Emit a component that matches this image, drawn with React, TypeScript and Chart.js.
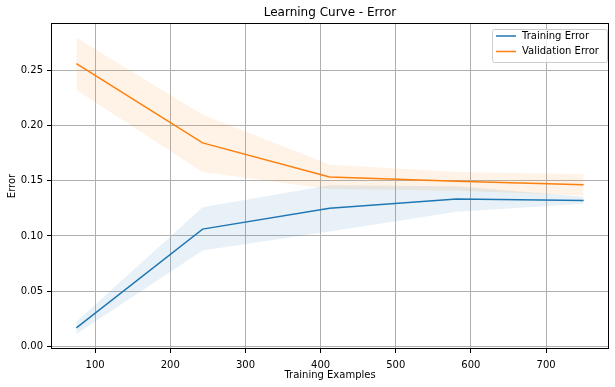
import React, { useEffect, useRef } from "react";
import { Chart, registerables } from "chart.js";

Chart.register(...registerables);

const trainSizes = [75, 243, 412, 581, 750];
const trainMean = [0.0168, 0.1062, 0.125, 0.1335, 0.1322];
const trainUpper = [0.0222, 0.126, 0.146, 0.145, 0.1355];
const trainLower = [0.0113, 0.0868, 0.104, 0.122, 0.1292];
const valMean = [0.256, 0.1843, 0.1535, 0.1495, 0.1463];
const valUpper = [0.2795, 0.2098, 0.1645, 0.158, 0.156];
const valLower = [0.2322, 0.158, 0.1425, 0.141, 0.1366];

const TITLE = "Learning Curve - Error";
const X_LABEL = "Training Examples";
const Y_LABEL = "Error";
const LEGEND = ["Training Error", "Validation Error"];

const BLUE = "#1f77b4";
const ORANGE = "#ff7f0e";
const FONT = "'DejaVu Sans', sans-serif";

const pts = (ys: number[]) => trainSizes.map((x, i) => ({ x, y: ys[i] }));

export default function App() {
  const ref = useRef<HTMLCanvasElement>(null);
  useEffect(() => {
    document.body.style.margin = "0";
    const canvas = ref.current!;
    const decor = {
      id: "decor",
      afterDraw(chart: any) {
        const { ctx, chartArea: a } = chart;
        ctx.save();
        ctx.strokeStyle = "#000";
        ctx.lineWidth = 1;
        ctx.strokeRect(Math.round(a.left) + 0.5, Math.round(a.top) + 0.5, Math.round(a.right - a.left) - 1, Math.round(a.bottom - a.top) - 1);
        // title
        ctx.fillStyle = "#000";
        ctx.font = `12px ${FONT}`;
        ctx.textAlign = "center";
        ctx.textBaseline = "middle";
        ctx.fillText(TITLE, (a.left + a.right) / 2, 13);
        // legend
        const lx = 492, ly = 29, lw = 115, lh = 33;
        ctx.fillStyle = "rgba(255,255,255,0.8)";
        ctx.strokeStyle = "#cccccc";
        ctx.lineWidth = 1;
        ctx.beginPath();
        (ctx as any).roundRect(lx + 0.5, ly + 0.5, lw, lh, 2);
        ctx.fill();
        ctx.stroke();
        const rows = [
          { c: BLUE, t: LEGEND[0], y: 36 },
          { c: ORANGE, t: LEGEND[1], y: 51.5 },
        ];
        ctx.font = `10px ${FONT}`;
        ctx.textAlign = "left";
        for (const r of rows) {
          ctx.strokeStyle = r.c;
          ctx.lineWidth = 1.5;
          ctx.beginPath();
          ctx.moveTo(496, r.y);
          ctx.lineTo(516, r.y);
          ctx.stroke();
          ctx.fillStyle = "#000";
          ctx.fillText(r.t, 522, r.y);
        }
        ctx.restore();
      },
    };
    const band = (ys: number[], fill: any, bg: string) => ({
      data: pts(ys),
      borderWidth: 0,
      borderColor: "rgba(0,0,0,0)",
      backgroundColor: bg,
      pointRadius: 0,
      fill,
    });
    const chart = new Chart(canvas, {
      type: "line",
      data: {
        datasets: [
          band(trainUpper, false, "rgba(0,0,0,0)"),
          band(trainLower, "-1", "rgba(31,119,180,0.1)"),
          band(valUpper, false, "rgba(0,0,0,0)"),
          band(valLower, "-1", "rgba(255,127,14,0.1)"),
          { data: pts(trainMean), borderColor: BLUE, borderWidth: 1.5, pointRadius: 0, fill: false },
          { data: pts(valMean), borderColor: ORANGE, borderWidth: 1.5, pointRadius: 0, fill: false },
        ] as any,
      },
      options: {
        animation: false,
        responsive: false,
        devicePixelRatio: 1,
        layout: { padding: { top: 23, right: 6, left: 0, bottom: 0 } },
        plugins: { legend: { display: false }, title: { display: false }, tooltip: { enabled: false } },
        elements: { line: { tension: 0 } },
        scales: {
          x: {
            type: "linear",
            min: 41.25,
            max: 783.75,
            afterFit: (s: any) => { s.height = 38; },
            ticks: { stepSize: 100, includeBounds: false, color: "#000", font: { family: FONT, size: 10 }, padding: 6, maxRotation: 0 },
            grid: { color: "#b0b0b0", lineWidth: 1, tickColor: "#000", tickLength: 4 },
            border: { display: false },
            title: { display: true, text: X_LABEL, color: "#000", font: { family: FONT, size: 10 }, padding: { top: 0, bottom: 6 } },
          },
          y: {
            type: "linear",
            min: -0.0024,
            max: 0.2929,
            afterFit: (s: any) => { s.width = 51; },
            ticks: {
              stepSize: 0.05,
              includeBounds: false,
              color: "#000",
              font: { family: FONT, size: 10 },
              padding: 4,
              callback: (v: any) => Number(v).toFixed(2),
            },
            grid: { color: "#b0b0b0", lineWidth: 1, tickColor: "#000", tickLength: 4 },
            border: { display: false },
            title: { display: true, text: Y_LABEL, color: "#000", font: { family: FONT, size: 10 }, padding: { top: 6, bottom: 0 } },
          },
        },
      },
      plugins: [decor],
    });
    return () => chart.destroy();
  }, []);
  return (
    <div style={{ width: 615, height: 387, background: "#fff" }}>
      <canvas ref={ref} width={615} height={387} />
    </div>
  );
}
